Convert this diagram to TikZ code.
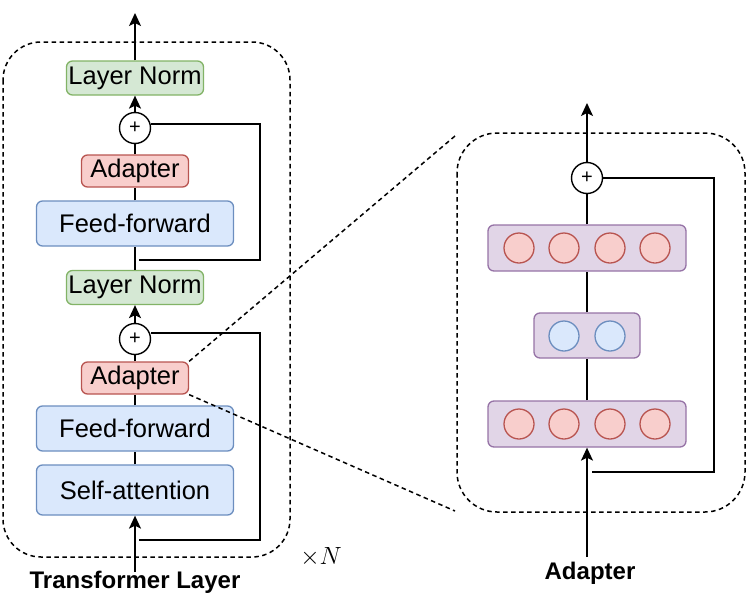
\documentclass[tikz,border=0pt]{standalone}
\usepackage{fontspec}
\setmainfont{Liberation Sans}
\usetikzlibrary{arrows.meta}
\definecolor{gfill}{HTML}{D5E8D4}\definecolor{gline}{HTML}{82B366}
\definecolor{rfill}{HTML}{F8CECC}\definecolor{rline}{HTML}{B85450}
\definecolor{bfill}{HTML}{DAE8FC}\definecolor{bline}{HTML}{6C8EBF}
\definecolor{pfill}{HTML}{E1D5E7}\definecolor{pline}{HTML}{9673A6}
\tikzset{
  box/.style={draw, rounded corners=6pt, line width=1.3pt, inner sep=0pt, font=\fontsize{25.5}{30}\selectfont},
  lnbox/.style={box, fill=gfill, draw=gline, minimum width=137pt, minimum height=34pt},
  adbox/.style={box, fill=rfill, draw=rline, minimum width=107pt, minimum height=32pt},
  ffbox/.style={box, fill=bfill, draw=bline, minimum width=197pt, minimum height=45pt},
  pbox/.style={draw=pline, fill=pfill, rounded corners=6pt, line width=1.3pt, inner sep=0pt, minimum height=46pt},
  plusnode/.style={draw, circle, line width=1.4pt, fill=white, minimum size=31pt, inner sep=0pt, font=\fontsize{20}{20}\selectfont},
  rneuron/.style={draw=rline, fill=rfill, circle, line width=1.3pt, minimum size=30pt, inner sep=0pt},
  bneuron/.style={draw=bline, fill=bfill, circle, line width=1.3pt, minimum size=30pt, inner sep=0pt},
  conn/.style={line width=1.7pt},
  arr/.style={conn, -{Stealth[length=13pt,width=12pt,inset=3pt]}},
  dashline/.style={line width=1.5pt, dash pattern=on 4.5pt off 3.5pt},
  title/.style={font=\fontsize{24}{28}\selectfont\bfseries}
}
\begin{document}
\begin{tikzpicture}[x=1pt,y=-1pt]
\useasboundingbox (0,0) rectangle (747,600);
% dashed containers
\draw[dashline, rounded corners=38pt] (3,42) rectangle (290,557);
\draw[dashline, rounded corners=40pt] (457,133) rectangle (745,512);

% left column
\node[lnbox] (ln1) at (135,78) {Layer Norm};
\node[plusnode] (p1) at (135,128) {+};
\node[adbox] (ad1) at (135,171) {Adapter};
\node[ffbox] (ff1) at (135,223.5) {Feed-forward};
\node[lnbox] (ln2) at (135,287.5) {Layer Norm};
\node[plusnode] (p2) at (135,339) {+};
\node[adbox] (ad2) at (135,378) {Adapter};
\node[ffbox] (ff2) at (135,428.5) {Feed-forward};
\node[ffbox, minimum height=50pt] (sa) at (135,490) {Self-attention};

\coordinate (topL) at (135,13);
\coordinate (inL) at (135,572);
\draw[arr] (ln1.north) -- (topL);
\draw[arr] (p1.north) -- (ln1.south);
\draw[conn] (ad1.north) -- (p1.south);
\draw[conn] (ff1.north) -- (ad1.south);
\draw[conn] (ln2.north) -- (ff1.south);
\draw[arr] (p2.north) -- (ln2.south);
\draw[conn] (ad2.north) -- (p2.south);
\draw[conn] (ff2.north) -- (ad2.south);
\draw[conn] (sa.north) -- (ff2.south);
\draw[arr] (inL) -- (sa.south);

% residuals left
\coordinate (r1a) at (139,260);
\coordinate (r1b) at (260,260);
\coordinate (r1c) at (260,124);
\draw[conn] (r1a) -- (r1b) -- (r1c) -- (p1.east |- r1c);
\coordinate (r2a) at (139,540);
\coordinate (r2b) at (260,540);
\coordinate (r2c) at (260,333);
\draw[conn] (r2a) -- (r2b) -- (r2c) -- (p2.east |- r2c);

% zoom lines
\coordinate (zt) at (455,136);
\coordinate (zb) at (455,511);
\draw[dashline] (ad2.north east) -- (zt);
\draw[dashline] (ad2.south east) -- (zb);

\node[title] (tl) at (135,582) {Transformer Layer};
\node[font=\fontsize{25}{30}\selectfont] (xn) at (321,557) {$\times N$};

% right adapter
\node[plusnode] (pr) at (587,178) {+};
\node[pbox, minimum width=198pt] (top) at (587,248) {};
\node[pbox, minimum width=106pt, minimum height=45pt] (mid) at (587,335.5) {};
\node[pbox, minimum width=198pt] (bot) at (587,424) {};
\foreach \i/\dx in {1/-68,2/-23,3/23,4/68}{
  \node[rneuron] (t\i) at (587+\dx,248) {};
  \node[rneuron] (b\i) at (587+\dx,424) {};
}
\node[bneuron] (m1) at (564,336) {};
\node[bneuron] (m2) at (610,336) {};

\coordinate (topR) at (587,103);
\coordinate (inR) at (587,557);
\draw[arr] (pr.north) -- (topR);
\draw[conn] (top.north) -- (pr.south);
\draw[conn] (mid.north) -- (top.south);
\draw[conn] (bot.north) -- (mid.south);
\draw[arr] (inR) -- (bot.south);
\coordinate (rra) at (592,472);
\coordinate (rrb) at (714,472);
\coordinate (rrc) at (714,178);
\draw[conn] (rra) -- (rrb) -- (rrc) -- (pr.east);

\node[title] (ta) at (590,573) {Adapter};
\end{tikzpicture}
\end{document}
